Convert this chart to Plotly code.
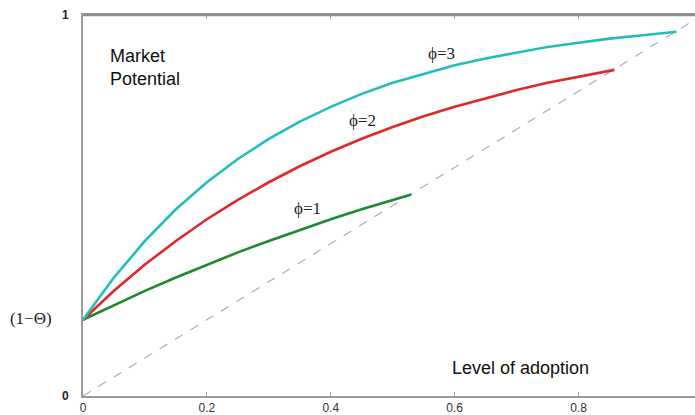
import plotly.graph_objects as go

# Level of adoption (x) and market potential (y)
x_phi1 = [0, 0.05, 0.1, 0.15, 0.2, 0.25, 0.3, 0.35, 0.4, 0.45, 0.5, 0.53]
y_phi1 = [0.200, 0.239, 0.276, 0.311, 0.345, 0.377, 0.407, 0.436, 0.464, 0.490, 0.515, 0.529]

x_phi2 = [0, 0.05, 0.1, 0.15, 0.2, 0.25, 0.3, 0.35, 0.4, 0.45, 0.5, 0.55, 0.6, 0.65, 0.7, 0.75, 0.8, 0.858]
y_phi2 = [0.200, 0.276, 0.345, 0.407, 0.464, 0.515, 0.561, 0.603, 0.641, 0.675, 0.706, 0.734, 0.759,
          0.782, 0.803, 0.822, 0.838, 0.856]

x_phi3 = [0, 0.05, 0.1, 0.15, 0.2, 0.25, 0.3, 0.35, 0.4, 0.45, 0.5, 0.55, 0.6, 0.65, 0.7, 0.75, 0.8,
          0.85, 0.9, 0.958]
y_phi3 = [0.200, 0.311, 0.407, 0.490, 0.561, 0.622, 0.675, 0.720, 0.759, 0.793, 0.822, 0.846, 0.868,
          0.886, 0.902, 0.916, 0.927, 0.938, 0.946, 0.956]

x_diag = [0, 1]
y_diag = [0, 1]

series_labels = ["ϕ=1", "ϕ=2", "ϕ=3"]
label_pos_x = [0.362, 0.451, 0.578]
label_pos_y = [0.492, 0.723, 0.898]

x_tickvals = [0, 0.2, 0.4, 0.6, 0.8, 1]
x_ticktext = ["0", "0.2", "0.4", "0.6", "0.8", "1"]
y_tickvals = [0, 0.2, 1]
y_ticktext = [
    "<b>0</b>",
    "<span style='font-family:Liberation Serif;font-size:17px;color:#222'>(1−Θ)"
    + "\u00a0" * 4 + "</span>",
    "<b>1</b>",
]

fig = go.Figure()
fig.add_trace(go.Scatter(x=x_diag, y=y_diag, mode="lines",
                         line=dict(color="#a9a9cc", width=1.2, dash="dash"), hoverinfo="skip"))
fig.add_trace(go.Scatter(x=x_phi1, y=y_phi1, mode="lines", line=dict(color="#1e8a2a", width=2.6)))
fig.add_trace(go.Scatter(x=x_phi2, y=y_phi2, mode="lines", line=dict(color="#e02828", width=2.6)))
fig.add_trace(go.Scatter(x=x_phi3, y=y_phi3, mode="lines", line=dict(color="#22bcbc", width=2.6)))

for t, ax, ay in zip(series_labels, label_pos_x, label_pos_y):
    fig.add_annotation(x=ax, y=ay, text=t, showarrow=False,
                       font=dict(family="Liberation Serif, DejaVu Serif", size=17, color="#222"))

fig.add_annotation(x=0.040, y=0.925, xanchor="left", yanchor="top", align="left",
                   text="Market<br>Potential", showarrow=False,
                   font=dict(family="Liberation Sans", size=18, color="#111"))
fig.add_annotation(x=0.706, y=0.073, text="Level of adoption", showarrow=False,
                   font=dict(family="Liberation Sans", size=18, color="#111"))

# top frame line of the plot box
fig.add_shape(type="line", xref="paper", yref="paper", x0=0, x1=1, y0=1, y1=1,
              line=dict(color="#8c8c8c", width=2.5), layer="above")

fig.update_layout(
    width=695, height=415,
    margin=dict(l=83, r=0, t=15, b=19),
    plot_bgcolor="white", paper_bgcolor="white",
    showlegend=False,
    font=dict(family="Liberation Sans", size=11, color="#333"),
)
fig.update_xaxes(range=[0, 0.988], tickvals=x_tickvals, ticktext=x_ticktext, automargin=False,
                 showgrid=False, zeroline=False, showline=True, linecolor="#9a9a9a", linewidth=2,
                 mirror="ticks", ticks="inside", ticklen=4, tickcolor="#9a9a9a",
                 tickfont=dict(family="Liberation Sans", size=12, color="#333"))
fig.update_yaxes(range=[0, 1], tickvals=y_tickvals, ticktext=y_ticktext, automargin=False,
                 showgrid=False, zeroline=False, showline=True, linecolor="#9a9a9a", linewidth=2,
                 ticks="", ticklabelstandoff=10,
                 tickfont=dict(family="Liberation Sans", size=12, color="#222"))

fig.write_html("out.html", config={"displayModeBar": False},
               post_script="document.body.style.margin='0';document.body.style.overflow='hidden';")
